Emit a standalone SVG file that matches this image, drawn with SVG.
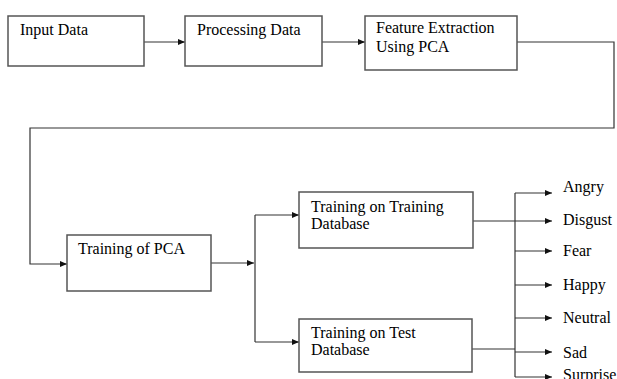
<svg xmlns="http://www.w3.org/2000/svg" width="617" height="379" viewBox="0 0 617 379">
<style>
.box{fill:#fff;stroke:#555;stroke-width:1.5}
.ln{fill:none;stroke:#333;stroke-width:1.2}
svg text, g text, text.t{font-family:'Liberation Serif',serif !important;font-size:16px !important}
</style>
<defs>
<marker id="ah" markerUnits="userSpaceOnUse" markerWidth="8" markerHeight="7" refX="7" refY="3.5" orient="auto">
<path d="M0,0.5 L7,3.5 L0,6.5 z" fill="#111"/>
</marker>
</defs>
<rect width="617" height="379" fill="#fff"/>
<g id="connectors">
<path class="ln" d="M144,42 H185" marker-end="url(#ah)"/>
<path class="ln" d="M322,42 H365" marker-end="url(#ah)"/>
<path class="ln" d="M517,42 H614 V128 H30 V264 H67" marker-end="url(#ah)"/>
<path class="ln" d="M211,263 H254" marker-end="url(#ah)"/>
<path class="ln" d="M255,215 V342"/>
<path class="ln" d="M255,215 H299" marker-end="url(#ah)"/>
<path class="ln" d="M255,342 H299" marker-end="url(#ah)"/>
<path class="ln" d="M473,221 H515"/>
<path class="ln" d="M472,349 H515"/>
<path class="ln" d="M515,193 V377"/>
<path class="ln" d="M515,193 H552" marker-end="url(#ah)"/>
<path class="ln" d="M515,221 H552" marker-end="url(#ah)"/>
<path class="ln" d="M515,251 H552" marker-end="url(#ah)"/>
<path class="ln" d="M515,285 H552" marker-end="url(#ah)"/>
<path class="ln" d="M515,318 H552" marker-end="url(#ah)"/>
<path class="ln" d="M515,352 H552" marker-end="url(#ah)"/>
<path class="ln" d="M515,377 H552" marker-end="url(#ah)"/>
</g>
<g id="input-data">
<rect class="box" x="8" y="16" width="136" height="50"/>
<text class="t" style="font-family:'Liberation Serif',serif;font-size:16px" x="20" y="35">Input Data</text>
</g>
<g id="processing-data">
<rect class="box" x="185" y="16" width="137" height="50"/>
<text class="t" style="font-family:'Liberation Serif',serif;font-size:16px" x="197" y="35">Processing Data</text>
</g>
<g id="feature-extraction">
<rect class="box" x="365" y="16" width="152" height="54"/>
<text class="t" style="font-family:'Liberation Serif',serif;font-size:16px" x="376" y="33">Feature Extraction</text>
<text class="t" style="font-family:'Liberation Serif',serif;font-size:16px" x="376" y="52">Using PCA</text>
</g>
<g id="training-pca">
<rect class="box" x="67" y="235" width="144" height="56"/>
<text class="t" style="font-family:'Liberation Serif',serif;font-size:16px" x="78" y="254">Training of PCA</text>
</g>
<g id="training-db">
<rect class="box" x="299" y="192" width="174" height="56"/>
<text class="t" style="font-family:'Liberation Serif',serif;font-size:16px" x="311" y="212">Training on Training</text>
<text class="t" style="font-family:'Liberation Serif',serif;font-size:16px" x="311" y="229">Database</text>
</g>
<g id="test-db">
<rect class="box" x="299" y="319" width="173" height="53"/>
<text class="t" style="font-family:'Liberation Serif',serif;font-size:16px" x="311" y="338">Training on Test</text>
<text class="t" style="font-family:'Liberation Serif',serif;font-size:16px" x="311" y="355">Database</text>
</g>
<g id="angry"><text class="t" style="font-family:'Liberation Serif',serif;font-size:16px" x="563" y="192">Angry</text></g>
<g id="disgust"><text class="t" style="font-family:'Liberation Serif',serif;font-size:16px" x="563" y="225">Disgust</text></g>
<g id="fear"><text class="t" style="font-family:'Liberation Serif',serif;font-size:16px" x="563" y="256">Fear</text></g>
<g id="happy"><text class="t" style="font-family:'Liberation Serif',serif;font-size:16px" x="563" y="290">Happy</text></g>
<g id="neutral"><text class="t" style="font-family:'Liberation Serif',serif;font-size:16px" x="563" y="323">Neutral</text></g>
<g id="sad"><text class="t" style="font-family:'Liberation Serif',serif;font-size:16px" x="563" y="358">Sad</text></g>
<g id="surprise"><text class="t" style="font-family:'Liberation Serif',serif;font-size:16px" x="563" y="380">Surprise</text></g>
</svg>
